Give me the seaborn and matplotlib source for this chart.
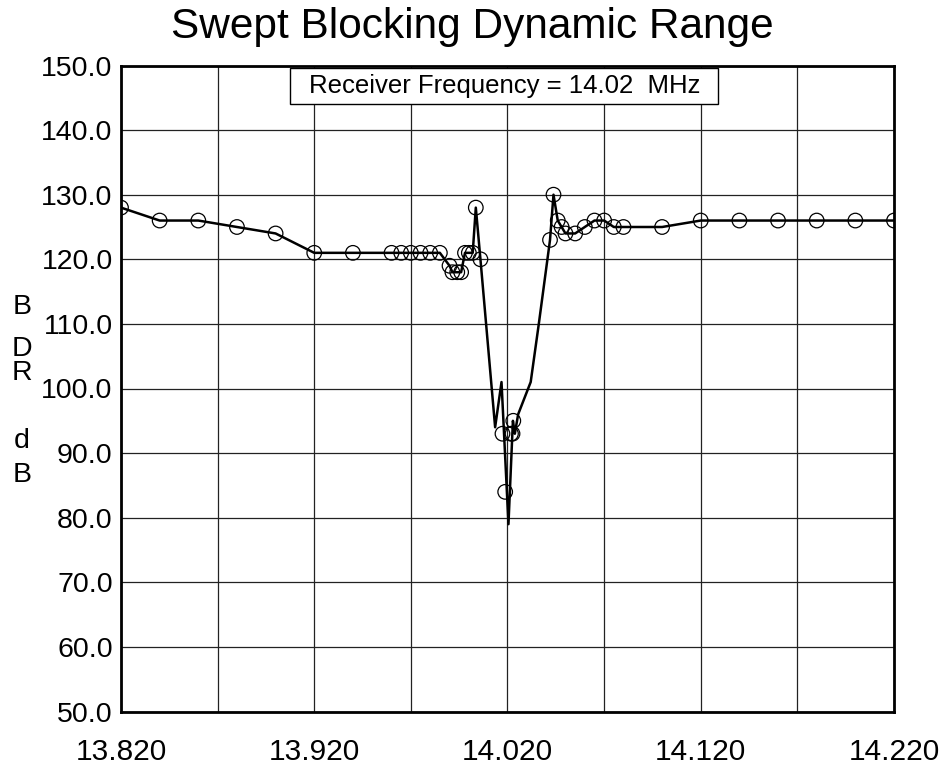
import matplotlib
matplotlib.use("Agg")
import matplotlib.pyplot as plt
from matplotlib.patches import Rectangle
import seaborn as sns
import pandas as pd
import numpy as np

# ---- data ----
line_freq = [13.82, 13.84, 13.86, 13.88, 13.90, 13.92, 13.94, 13.96, 13.965, 13.97,
             13.975, 13.98, 13.985, 13.99, 13.9915, 13.994, 13.996, 13.998, 14.000, 14.002,
             14.0036, 14.006, 14.0136, 14.0169, 14.0205, 14.0228, 14.0238, 14.0255, 14.032,
             14.0362, 14.042, 14.0438, 14.046, 14.048, 14.050, 14.055, 14.060, 14.065,
             14.070, 14.075, 14.080, 14.100, 14.120, 14.140, 14.160, 14.180, 14.200, 14.220]
line_bdr = [128, 126, 126, 125, 124, 121, 121, 121, 121, 121,
            121, 121, 121, 119, 118, 118, 118, 121, 121, 121,
            128, 120, 94, 101, 79, 95, 93, 96, 101,
            110, 123, 130, 126, 125, 124, 124, 125, 126,
            126, 125, 125, 125, 126, 126, 126, 126, 126, 126]

marker_freq = [13.82, 13.84, 13.86, 13.88, 13.90, 13.92, 13.94, 13.96, 13.965, 13.97,
               13.975, 13.98, 13.985, 13.99, 13.9915, 13.994, 13.996, 13.998, 14.000, 14.002,
               14.0036, 14.006, 14.0174, 14.0188, 14.0218, 14.0226, 14.023,
               14.042, 14.0438, 14.046, 14.048, 14.050, 14.055, 14.060, 14.065,
               14.070, 14.075, 14.080, 14.100, 14.120, 14.140, 14.160, 14.180, 14.200, 14.220]
marker_bdr = [128, 126, 126, 125, 124, 121, 121, 121, 121, 121,
              121, 121, 121, 119, 118, 118, 118, 121, 121, 121,
              128, 120, 93, 84, 93, 93, 95,
              123, 130, 126, 125, 124, 124, 125, 126,
              126, 125, 125, 125, 126, 126, 126, 126, 126, 126]

x_ticks = [13.82, 13.92, 14.02, 14.12, 14.22]
x_tick_labels = ["13.820", "13.920", "14.020", "14.120", "14.220"]
x_grid = [13.87, 13.97, 14.07, 14.17]
y_ticks = [50, 60, 70, 80, 90, 100, 110, 120, 130, 140, 150]
y_tick_labels = ["%.1f" % v for v in y_ticks]

title = "Swept Blocking Dynamic Range"
note = "Receiver Frequency = 14.02  MHz"
ylabel_chars = ["B", "D", "R", "d", "B"]

# ---- plot ----
sns.set_style("white")
plt.rcParams['font.family'] = ['Liberation Sans', 'DejaVu Sans']
plt.rcParams['text.color'] = 'black'
plt.rcParams['xtick.color'] = 'black'
plt.rcParams['ytick.color'] = 'black'

W, H = 945, 769
fig = plt.figure(figsize=(W / 100, H / 100), dpi=100)
ax = fig.add_axes([121 / W, 1 - 711.5 / H, (894 - 121) / W, (711.5 - 65.5) / H])

line_df = pd.DataFrame({"freq": line_freq, "bdr": line_bdr})
mark_df = pd.DataFrame({"freq": marker_freq, "bdr": marker_bdr})

sns.lineplot(data=line_df, x="freq", y="bdr", sort=False, estimator=None,
             color="black", linewidth=1.8, ax=ax, zorder=3)
sns.scatterplot(data=mark_df, x="freq", y="bdr", marker="o", s=110,
                facecolors="none", edgecolor="black", linewidth=0.9, ax=ax, zorder=4)

ax.set_xlim(13.82, 14.22)
ax.set_ylim(50, 150)
ax.set_xticks(x_ticks)
ax.set_xticklabels(x_tick_labels)
ax.set_yticks(y_ticks)
ax.set_yticklabels(y_tick_labels)
ax.set_xticks(x_grid, minor=True)
ax.tick_params(axis="both", which="both", length=0, labelsize=20.5, labelcolor="black")
ax.tick_params(axis="x", pad=19, labelsize=21.5)
ax.tick_params(axis="y", pad=6)
ax.grid(True, which="both", color="#222222", linewidth=0.9)
ax.set_axisbelow(True)
for s in ax.spines.values():
    s.set_visible(True)
    s.set_color("black")
    s.set_linewidth(2)
ax.set_xlabel("")
ax.set_ylabel("")

fig.text(472.5 / W, 1 - 27 / H, title, ha="center", va="center", fontsize=30.5, color="black")

# note box
fig.patches.append(Rectangle((290 / W, 1 - 104 / H), (718 - 290) / W, (104 - 68) / H,
                             transform=fig.transFigure, facecolor="white", edgecolor="black",
                             linewidth=1, zorder=5))
fig.text(504.5 / W, 1 - 86 / H, note, ha="center", va="center", fontsize=18.5,
         color="black", zorder=6)

ys = [307, 349, 373, 441, 475]
for ch, yy in zip(ylabel_chars, ys):
    fig.text(22 / W, 1 - yy / H, ch, ha="center", va="center", fontsize=20.5, color="black")

fig.savefig("out.png", dpi=100)
